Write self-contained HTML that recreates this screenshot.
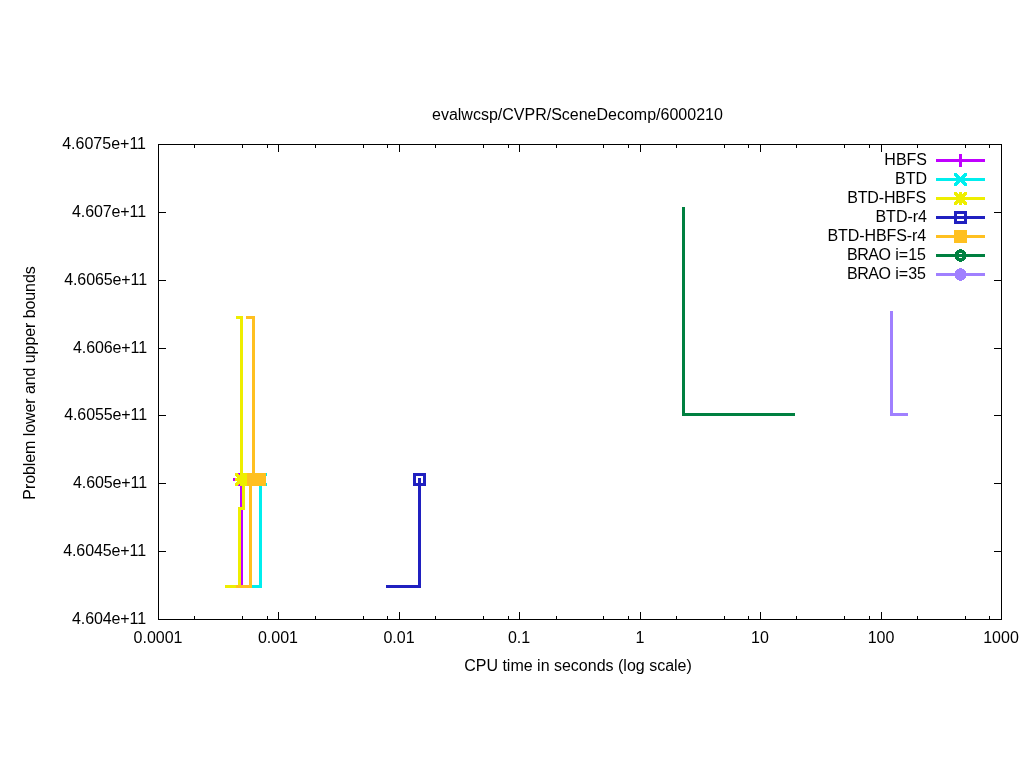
<!DOCTYPE html>
<html><head><meta charset="utf-8"><title>evalwcsp/CVPR/SceneDecomp/6000210</title>
<style>
html,body{margin:0;padding:0;background:#fff;}
body{width:1024px;height:768px;position:relative;overflow:hidden;font-family:"Liberation Sans",Arial,sans-serif;font-size:16px;color:#000;}
.t{position:absolute;white-space:nowrap;line-height:20px;height:20px;}
</style></head><body>
<svg width="1024" height="768" viewBox="0 0 1024 768" shape-rendering="crispEdges" style="position:absolute;left:0;top:0">
<rect x="158" y="144" width="844" height="1" fill="#000"/>
<rect x="158" y="619" width="844" height="1" fill="#000"/>
<rect x="158" y="144" width="1" height="476" fill="#000"/>
<rect x="1001" y="144" width="1" height="476" fill="#000"/>
<rect x="158" y="144" width="8" height="1" fill="#000"/>
<rect x="994" y="144" width="8" height="1" fill="#000"/>
<rect x="158" y="212" width="8" height="1" fill="#000"/>
<rect x="994" y="212" width="8" height="1" fill="#000"/>
<rect x="158" y="280" width="8" height="1" fill="#000"/>
<rect x="994" y="280" width="8" height="1" fill="#000"/>
<rect x="158" y="348" width="8" height="1" fill="#000"/>
<rect x="994" y="348" width="8" height="1" fill="#000"/>
<rect x="158" y="415" width="8" height="1" fill="#000"/>
<rect x="994" y="415" width="8" height="1" fill="#000"/>
<rect x="158" y="483" width="8" height="1" fill="#000"/>
<rect x="994" y="483" width="8" height="1" fill="#000"/>
<rect x="158" y="551" width="8" height="1" fill="#000"/>
<rect x="994" y="551" width="8" height="1" fill="#000"/>
<rect x="158" y="619" width="8" height="1" fill="#000"/>
<rect x="994" y="619" width="8" height="1" fill="#000"/>
<rect x="158" y="612" width="1" height="8" fill="#000"/>
<rect x="158" y="144" width="1" height="8" fill="#000"/>
<rect x="194" y="616" width="1" height="4" fill="#000"/>
<rect x="194" y="144" width="1" height="4" fill="#000"/>
<rect x="242" y="616" width="1" height="4" fill="#000"/>
<rect x="242" y="144" width="1" height="4" fill="#000"/>
<rect x="267" y="616" width="1" height="4" fill="#000"/>
<rect x="267" y="144" width="1" height="4" fill="#000"/>
<rect x="278" y="612" width="1" height="8" fill="#000"/>
<rect x="278" y="144" width="1" height="8" fill="#000"/>
<rect x="315" y="616" width="1" height="4" fill="#000"/>
<rect x="315" y="144" width="1" height="4" fill="#000"/>
<rect x="363" y="616" width="1" height="4" fill="#000"/>
<rect x="363" y="144" width="1" height="4" fill="#000"/>
<rect x="387" y="616" width="1" height="4" fill="#000"/>
<rect x="387" y="144" width="1" height="4" fill="#000"/>
<rect x="399" y="612" width="1" height="8" fill="#000"/>
<rect x="399" y="144" width="1" height="8" fill="#000"/>
<rect x="435" y="616" width="1" height="4" fill="#000"/>
<rect x="435" y="144" width="1" height="4" fill="#000"/>
<rect x="483" y="616" width="1" height="4" fill="#000"/>
<rect x="483" y="144" width="1" height="4" fill="#000"/>
<rect x="508" y="616" width="1" height="4" fill="#000"/>
<rect x="508" y="144" width="1" height="4" fill="#000"/>
<rect x="519" y="612" width="1" height="8" fill="#000"/>
<rect x="519" y="144" width="1" height="8" fill="#000"/>
<rect x="556" y="616" width="1" height="4" fill="#000"/>
<rect x="556" y="144" width="1" height="4" fill="#000"/>
<rect x="603" y="616" width="1" height="4" fill="#000"/>
<rect x="603" y="144" width="1" height="4" fill="#000"/>
<rect x="628" y="616" width="1" height="4" fill="#000"/>
<rect x="628" y="144" width="1" height="4" fill="#000"/>
<rect x="640" y="612" width="1" height="8" fill="#000"/>
<rect x="640" y="144" width="1" height="8" fill="#000"/>
<rect x="676" y="616" width="1" height="4" fill="#000"/>
<rect x="676" y="144" width="1" height="4" fill="#000"/>
<rect x="724" y="616" width="1" height="4" fill="#000"/>
<rect x="724" y="144" width="1" height="4" fill="#000"/>
<rect x="748" y="616" width="1" height="4" fill="#000"/>
<rect x="748" y="144" width="1" height="4" fill="#000"/>
<rect x="760" y="612" width="1" height="8" fill="#000"/>
<rect x="760" y="144" width="1" height="8" fill="#000"/>
<rect x="796" y="616" width="1" height="4" fill="#000"/>
<rect x="796" y="144" width="1" height="4" fill="#000"/>
<rect x="844" y="616" width="1" height="4" fill="#000"/>
<rect x="844" y="144" width="1" height="4" fill="#000"/>
<rect x="869" y="616" width="1" height="4" fill="#000"/>
<rect x="869" y="144" width="1" height="4" fill="#000"/>
<rect x="881" y="612" width="1" height="8" fill="#000"/>
<rect x="881" y="144" width="1" height="8" fill="#000"/>
<rect x="917" y="616" width="1" height="4" fill="#000"/>
<rect x="917" y="144" width="1" height="4" fill="#000"/>
<rect x="965" y="616" width="1" height="4" fill="#000"/>
<rect x="965" y="144" width="1" height="4" fill="#000"/>
<rect x="989" y="616" width="1" height="4" fill="#000"/>
<rect x="989" y="144" width="1" height="4" fill="#000"/>
<rect x="1001" y="612" width="1" height="8" fill="#000"/>
<rect x="1001" y="144" width="1" height="8" fill="#000"/>
<rect x="236" y="585" width="7" height="3" fill="#c000ff"/>
<rect x="240" y="479" width="3" height="109" fill="#c000ff"/>
<rect x="233" y="478" width="13" height="3" fill="#c000ff"/>
<rect x="238" y="473" width="3" height="13" fill="#c000ff"/>
<rect x="252" y="585" width="10" height="3" fill="#00eeee"/>
<rect x="259" y="479" width="3" height="109" fill="#00eeee"/>
<rect x="254" y="473" width="3" height="1" fill="#00eeee"/>
<rect x="264" y="473" width="3" height="1" fill="#00eeee"/>
<rect x="254" y="474" width="4" height="1" fill="#00eeee"/>
<rect x="263" y="474" width="4" height="1" fill="#00eeee"/>
<rect x="254" y="475" width="5" height="1" fill="#00eeee"/>
<rect x="262" y="475" width="5" height="1" fill="#00eeee"/>
<rect x="255" y="476" width="5" height="1" fill="#00eeee"/>
<rect x="261" y="476" width="5" height="1" fill="#00eeee"/>
<rect x="256" y="477" width="5" height="1" fill="#00eeee"/>
<rect x="260" y="477" width="5" height="1" fill="#00eeee"/>
<rect x="257" y="478" width="5" height="1" fill="#00eeee"/>
<rect x="259" y="478" width="5" height="1" fill="#00eeee"/>
<rect x="258" y="479" width="5" height="1" fill="#00eeee"/>
<rect x="258" y="479" width="5" height="1" fill="#00eeee"/>
<rect x="259" y="480" width="5" height="1" fill="#00eeee"/>
<rect x="257" y="480" width="5" height="1" fill="#00eeee"/>
<rect x="260" y="481" width="5" height="1" fill="#00eeee"/>
<rect x="256" y="481" width="5" height="1" fill="#00eeee"/>
<rect x="261" y="482" width="5" height="1" fill="#00eeee"/>
<rect x="255" y="482" width="5" height="1" fill="#00eeee"/>
<rect x="262" y="483" width="5" height="1" fill="#00eeee"/>
<rect x="254" y="483" width="5" height="1" fill="#00eeee"/>
<rect x="263" y="484" width="4" height="1" fill="#00eeee"/>
<rect x="254" y="484" width="4" height="1" fill="#00eeee"/>
<rect x="264" y="485" width="3" height="1" fill="#00eeee"/>
<rect x="254" y="485" width="3" height="1" fill="#00eeee"/>
<rect x="236" y="316" width="7" height="3" fill="#eeee00"/>
<rect x="240" y="316" width="3" height="164" fill="#eeee00"/>
<rect x="225" y="585" width="16" height="3" fill="#eeee00"/>
<rect x="238" y="507" width="3" height="81" fill="#eeee00"/>
<rect x="238" y="507" width="7" height="3" fill="#eeee00"/>
<rect x="242" y="479" width="3" height="31" fill="#eeee00"/>
<rect x="235" y="473" width="3" height="1" fill="#eeee00"/>
<rect x="245" y="473" width="3" height="1" fill="#eeee00"/>
<rect x="235" y="474" width="4" height="1" fill="#eeee00"/>
<rect x="244" y="474" width="4" height="1" fill="#eeee00"/>
<rect x="235" y="475" width="5" height="1" fill="#eeee00"/>
<rect x="243" y="475" width="5" height="1" fill="#eeee00"/>
<rect x="236" y="476" width="5" height="1" fill="#eeee00"/>
<rect x="242" y="476" width="5" height="1" fill="#eeee00"/>
<rect x="237" y="477" width="5" height="1" fill="#eeee00"/>
<rect x="241" y="477" width="5" height="1" fill="#eeee00"/>
<rect x="238" y="478" width="5" height="1" fill="#eeee00"/>
<rect x="240" y="478" width="5" height="1" fill="#eeee00"/>
<rect x="239" y="479" width="5" height="1" fill="#eeee00"/>
<rect x="239" y="479" width="5" height="1" fill="#eeee00"/>
<rect x="240" y="480" width="5" height="1" fill="#eeee00"/>
<rect x="238" y="480" width="5" height="1" fill="#eeee00"/>
<rect x="241" y="481" width="5" height="1" fill="#eeee00"/>
<rect x="237" y="481" width="5" height="1" fill="#eeee00"/>
<rect x="242" y="482" width="5" height="1" fill="#eeee00"/>
<rect x="236" y="482" width="5" height="1" fill="#eeee00"/>
<rect x="243" y="483" width="5" height="1" fill="#eeee00"/>
<rect x="235" y="483" width="5" height="1" fill="#eeee00"/>
<rect x="244" y="484" width="4" height="1" fill="#eeee00"/>
<rect x="235" y="484" width="4" height="1" fill="#eeee00"/>
<rect x="245" y="485" width="3" height="1" fill="#eeee00"/>
<rect x="235" y="485" width="3" height="1" fill="#eeee00"/>
<rect x="235" y="478" width="13" height="3" fill="#eeee00"/>
<rect x="240" y="473" width="3" height="13" fill="#eeee00"/>
<rect x="243" y="473" width="4" height="13" fill="#eeee00"/>
<rect x="386" y="585" width="35" height="3" fill="#2020c0"/>
<rect x="418" y="478" width="3" height="110" fill="#2020c0"/>
<rect x="413" y="473" width="13" height="3" fill="#2020c0"/>
<rect x="413" y="483" width="13" height="3" fill="#2020c0"/>
<rect x="413" y="473" width="3" height="13" fill="#2020c0"/>
<rect x="423" y="473" width="3" height="13" fill="#2020c0"/>
<rect x="246" y="316" width="9" height="3" fill="#ffc020"/>
<rect x="252" y="316" width="3" height="164" fill="#ffc020"/>
<rect x="236" y="585" width="16" height="3" fill="#ffc020"/>
<rect x="249" y="479" width="3" height="109" fill="#ffc020"/>
<rect x="247" y="473" width="19" height="13" fill="#ffc020"/>
<rect x="682" y="207" width="3" height="209" fill="#008040"/>
<rect x="682" y="413" width="113" height="3" fill="#008040"/>
<rect x="890" y="311" width="3" height="105" fill="#a080ff"/>
<rect x="890" y="413" width="18" height="3" fill="#a080ff"/>
<rect x="936" y="159" width="49" height="3" fill="#c000ff"/>
<rect x="954" y="159" width="13" height="3" fill="#c000ff"/>
<rect x="959" y="154" width="3" height="13" fill="#c000ff"/>
<rect x="936" y="178" width="49" height="3" fill="#00eeee"/>
<rect x="954" y="173" width="3" height="1" fill="#00eeee"/>
<rect x="964" y="173" width="3" height="1" fill="#00eeee"/>
<rect x="954" y="174" width="4" height="1" fill="#00eeee"/>
<rect x="963" y="174" width="4" height="1" fill="#00eeee"/>
<rect x="954" y="175" width="5" height="1" fill="#00eeee"/>
<rect x="962" y="175" width="5" height="1" fill="#00eeee"/>
<rect x="955" y="176" width="5" height="1" fill="#00eeee"/>
<rect x="961" y="176" width="5" height="1" fill="#00eeee"/>
<rect x="956" y="177" width="5" height="1" fill="#00eeee"/>
<rect x="960" y="177" width="5" height="1" fill="#00eeee"/>
<rect x="957" y="178" width="5" height="1" fill="#00eeee"/>
<rect x="959" y="178" width="5" height="1" fill="#00eeee"/>
<rect x="958" y="179" width="5" height="1" fill="#00eeee"/>
<rect x="958" y="179" width="5" height="1" fill="#00eeee"/>
<rect x="959" y="180" width="5" height="1" fill="#00eeee"/>
<rect x="957" y="180" width="5" height="1" fill="#00eeee"/>
<rect x="960" y="181" width="5" height="1" fill="#00eeee"/>
<rect x="956" y="181" width="5" height="1" fill="#00eeee"/>
<rect x="961" y="182" width="5" height="1" fill="#00eeee"/>
<rect x="955" y="182" width="5" height="1" fill="#00eeee"/>
<rect x="962" y="183" width="5" height="1" fill="#00eeee"/>
<rect x="954" y="183" width="5" height="1" fill="#00eeee"/>
<rect x="963" y="184" width="4" height="1" fill="#00eeee"/>
<rect x="954" y="184" width="4" height="1" fill="#00eeee"/>
<rect x="964" y="185" width="3" height="1" fill="#00eeee"/>
<rect x="954" y="185" width="3" height="1" fill="#00eeee"/>
<rect x="936" y="197" width="49" height="3" fill="#eeee00"/>
<rect x="954" y="192" width="3" height="1" fill="#eeee00"/>
<rect x="964" y="192" width="3" height="1" fill="#eeee00"/>
<rect x="954" y="193" width="4" height="1" fill="#eeee00"/>
<rect x="963" y="193" width="4" height="1" fill="#eeee00"/>
<rect x="954" y="194" width="5" height="1" fill="#eeee00"/>
<rect x="962" y="194" width="5" height="1" fill="#eeee00"/>
<rect x="955" y="195" width="5" height="1" fill="#eeee00"/>
<rect x="961" y="195" width="5" height="1" fill="#eeee00"/>
<rect x="956" y="196" width="5" height="1" fill="#eeee00"/>
<rect x="960" y="196" width="5" height="1" fill="#eeee00"/>
<rect x="957" y="197" width="5" height="1" fill="#eeee00"/>
<rect x="959" y="197" width="5" height="1" fill="#eeee00"/>
<rect x="958" y="198" width="5" height="1" fill="#eeee00"/>
<rect x="958" y="198" width="5" height="1" fill="#eeee00"/>
<rect x="959" y="199" width="5" height="1" fill="#eeee00"/>
<rect x="957" y="199" width="5" height="1" fill="#eeee00"/>
<rect x="960" y="200" width="5" height="1" fill="#eeee00"/>
<rect x="956" y="200" width="5" height="1" fill="#eeee00"/>
<rect x="961" y="201" width="5" height="1" fill="#eeee00"/>
<rect x="955" y="201" width="5" height="1" fill="#eeee00"/>
<rect x="962" y="202" width="5" height="1" fill="#eeee00"/>
<rect x="954" y="202" width="5" height="1" fill="#eeee00"/>
<rect x="963" y="203" width="4" height="1" fill="#eeee00"/>
<rect x="954" y="203" width="4" height="1" fill="#eeee00"/>
<rect x="964" y="204" width="3" height="1" fill="#eeee00"/>
<rect x="954" y="204" width="3" height="1" fill="#eeee00"/>
<rect x="954" y="197" width="13" height="3" fill="#eeee00"/>
<rect x="959" y="192" width="3" height="13" fill="#eeee00"/>
<rect x="936" y="216" width="49" height="3" fill="#2020c0"/>
<rect x="954" y="211" width="13" height="3" fill="#2020c0"/>
<rect x="954" y="221" width="13" height="3" fill="#2020c0"/>
<rect x="954" y="211" width="3" height="13" fill="#2020c0"/>
<rect x="964" y="211" width="3" height="13" fill="#2020c0"/>
<rect x="936" y="235" width="49" height="3" fill="#ffc020"/>
<rect x="954" y="230" width="13" height="13" fill="#ffc020"/>
<rect x="936" y="254" width="49" height="3" fill="#008040"/>
<rect x="959" y="249" width="3" height="1" fill="#008040"/>
<rect x="957" y="250" width="7" height="1" fill="#008040"/>
<rect x="956" y="251" width="9" height="1" fill="#008040"/>
<rect x="955" y="252" width="11" height="1" fill="#008040"/>
<rect x="955" y="253" width="4" height="1" fill="#008040"/>
<rect x="962" y="253" width="4" height="1" fill="#008040"/>
<rect x="955" y="254" width="4" height="1" fill="#008040"/>
<rect x="962" y="254" width="4" height="1" fill="#008040"/>
<rect x="955" y="255" width="4" height="1" fill="#008040"/>
<rect x="962" y="255" width="4" height="1" fill="#008040"/>
<rect x="955" y="256" width="4" height="1" fill="#008040"/>
<rect x="962" y="256" width="4" height="1" fill="#008040"/>
<rect x="955" y="257" width="4" height="1" fill="#008040"/>
<rect x="962" y="257" width="4" height="1" fill="#008040"/>
<rect x="955" y="258" width="11" height="1" fill="#008040"/>
<rect x="956" y="259" width="9" height="1" fill="#008040"/>
<rect x="957" y="260" width="7" height="1" fill="#008040"/>
<rect x="959" y="261" width="3" height="1" fill="#008040"/>
<rect x="936" y="273" width="49" height="3" fill="#a080ff"/>
<rect x="959" y="268" width="3" height="1" fill="#a080ff"/>
<rect x="957" y="269" width="7" height="1" fill="#a080ff"/>
<rect x="956" y="270" width="9" height="1" fill="#a080ff"/>
<rect x="955" y="271" width="11" height="1" fill="#a080ff"/>
<rect x="955" y="272" width="11" height="1" fill="#a080ff"/>
<rect x="955" y="273" width="11" height="1" fill="#a080ff"/>
<rect x="955" y="274" width="11" height="1" fill="#a080ff"/>
<rect x="955" y="275" width="11" height="1" fill="#a080ff"/>
<rect x="955" y="276" width="11" height="1" fill="#a080ff"/>
<rect x="955" y="277" width="11" height="1" fill="#a080ff"/>
<rect x="956" y="278" width="9" height="1" fill="#a080ff"/>
<rect x="957" y="279" width="7" height="1" fill="#a080ff"/>
<rect x="959" y="280" width="3" height="1" fill="#a080ff"/>
</svg>
<div class="t" style="left:432px;top:105px">evalwcsp/CVPR/SceneDecomp/6000210</div>
<div class="t" style="right:878px;top:134px;">4.6075e+11</div>
<div class="t" style="right:878px;top:202px;letter-spacing:-0.1px;">4.607e+11</div>
<div class="t" style="right:877px;top:270px;letter-spacing:-0.1px;">4.6065e+11</div>
<div class="t" style="right:877px;top:338px;letter-spacing:-0.1px;">4.606e+11</div>
<div class="t" style="right:877px;top:405px;letter-spacing:-0.1px;">4.6055e+11</div>
<div class="t" style="right:877px;top:473px;letter-spacing:-0.1px;">4.605e+11</div>
<div class="t" style="right:878px;top:541px;letter-spacing:-0.1px;">4.6045e+11</div>
<div class="t" style="right:878px;top:609px;letter-spacing:-0.1px;">4.604e+11</div>
<div class="t" style="left:108px;width:100px;text-align:center;top:628px">0.0001</div>
<div class="t" style="left:228px;width:100px;text-align:center;top:628px">0.001</div>
<div class="t" style="left:349px;width:100px;text-align:center;top:628px">0.01</div>
<div class="t" style="left:469px;width:100px;text-align:center;top:628px">0.1</div>
<div class="t" style="left:590px;width:100px;text-align:center;top:628px">1</div>
<div class="t" style="left:710px;width:100px;text-align:center;top:628px">10</div>
<div class="t" style="left:831px;width:100px;text-align:center;top:628px">100</div>
<div class="t" style="left:951px;width:100px;text-align:center;top:628px">1000</div>
<div class="t" style="left:378px;width:400px;text-align:center;top:656px">CPU time in seconds (log scale)</div>
<div class="t" style="left:-170px;width:400px;text-align:center;top:373px;transform:rotate(-90deg);letter-spacing:-0.08px">Problem lower and upper bounds</div>
<div class="t" style="right:97px;top:150px;">HBFS</div>
<div class="t" style="right:97px;top:169px;">BTD</div>
<div class="t" style="right:98px;top:188px;letter-spacing:-0.15px;">BTD-HBFS</div>
<div class="t" style="right:97px;top:207px;">BTD-r4</div>
<div class="t" style="right:98px;top:226px;letter-spacing:-0.1px;">BTD-HBFS-r4</div>
<div class="t" style="right:98px;top:245px;"><span style="letter-spacing:-0.5px">BRA</span>O i=15</div>
<div class="t" style="right:98px;top:264px;"><span style="letter-spacing:-0.5px">BRA</span>O i=35</div>
</body></html>
